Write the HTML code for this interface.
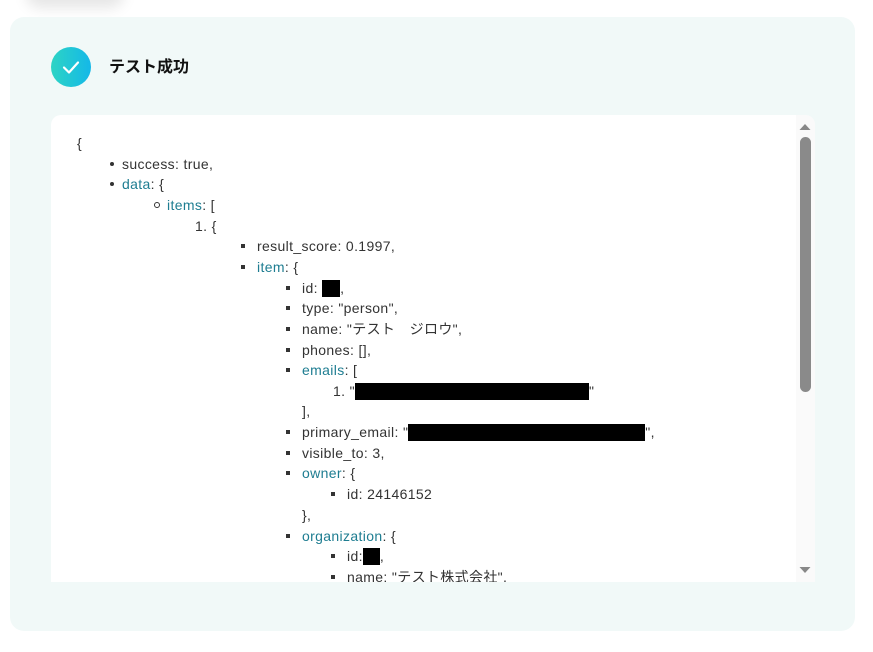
<!DOCTYPE html>
<html><head><meta charset="utf-8"><style>
body{margin:0;width:873px;height:652px;background:#fff;position:relative;overflow:hidden;font-family:"Liberation Sans","Noto Sans CJK JP",sans-serif;}
.shadow{position:absolute;left:30px;top:-20px;width:90px;height:20px;border-radius:20px;box-shadow:0 4px 14px 4px rgba(0,0,0,.10);background:#fff;}
.panel{position:absolute;left:10px;top:17px;width:845px;height:614px;background:#f1f9f8;border-radius:14px;}
.icon{position:absolute;left:51px;top:47px;width:40px;height:40px;border-radius:50%;background:linear-gradient(90deg,#2dd4c4,#14b8e8);}
.title{position:absolute;left:109px;top:57px;font-size:16px;font-weight:bold;color:#111;line-height:22px;}
.box{position:absolute;left:51px;top:115px;width:764px;height:467px;background:#fff;border-radius:10px 10px 0 0;overflow:hidden;}
.sb{position:absolute;right:0;top:0;width:19px;height:467px;background:#fafafa;}
.thumb{position:absolute;left:4px;top:22px;width:11px;height:255px;background:#8a8a8a;border-radius:6px;}
.l{position:absolute;height:20px;line-height:20px;font-size:14px;letter-spacing:0.35px;color:#333;white-space:nowrap;}
.k{color:#1e7d91;}
.d{position:absolute;width:4px;height:4px;background:#333;border-radius:50%;}
.c{position:absolute;width:4px;height:4px;border:1px solid #333;border-radius:50%;}
.s{position:absolute;width:4px;height:4px;background:#333;}
.r{display:inline-block;background:#000;height:17px;vertical-align:-4px;}
</style></head><body>
<div class="shadow"></div>
<div class="panel"></div>
<div class="icon"><svg width="40" height="40"><path d="M13 20.5l5 5 9-10" fill="none" stroke="#fff" stroke-width="2.2" stroke-linecap="round" stroke-linejoin="round"/></svg></div>
<div class="title">テスト成功</div>
<div class="box">
<div class="l" style="left:26px;top:18px">{</div>
<div class="d" style="left:59px;top:47px"></div><div class="l" style="left:71px;top:39px">success: true,</div>
<div class="d" style="left:59px;top:67px"></div><div class="l" style="left:71px;top:59px"><span class="k">data</span>: {</div>
<div class="c" style="left:103px;top:87px"></div><div class="l" style="left:116px;top:80px"><span class="k">items</span>: [</div>
<div class="l" style="left:144px;top:101px">1. {</div>
<div class="s" style="left:190px;top:129px"></div><div class="l" style="left:206px;top:121px">result_score: 0.1997,</div>
<div class="s" style="left:190px;top:150px"></div><div class="l" style="left:206px;top:142px"><span class="k">item</span>: {</div>
<div class="s" style="left:235px;top:171px"></div><div class="l" style="left:251px;top:163px">id: <span class="r" style="width:18px"></span>,</div>
<div class="s" style="left:235px;top:191px"></div><div class="l" style="left:251px;top:183px">type: "person",</div>
<div class="s" style="left:235px;top:212px"></div><div class="l" style="left:251px;top:204px">name: "テスト　ジロウ",</div>
<div class="s" style="left:235px;top:233px"></div><div class="l" style="left:251px;top:225px">phones: [],</div>
<div class="s" style="left:235px;top:253px"></div><div class="l" style="left:251px;top:245px"><span class="k">emails</span>: [</div>
<div class="l" style="left:282px;top:266px">1. "<span class="r" style="width:234px"></span>"</div>
<div class="l" style="left:251px;top:286px">],</div>
<div class="s" style="left:235px;top:315px"></div><div class="l" style="left:251px;top:307px">primary_email: "<span class="r" style="width:237px"></span>",</div>
<div class="s" style="left:235px;top:336px"></div><div class="l" style="left:251px;top:328px">visible_to: 3,</div>
<div class="s" style="left:235px;top:356px"></div><div class="l" style="left:251px;top:348px"><span class="k">owner</span>: {</div>
<div class="s" style="left:280px;top:377px"></div><div class="l" style="left:296px;top:369px">id: 24146152</div>
<div class="l" style="left:251px;top:390px">},</div>
<div class="s" style="left:235px;top:419px"></div><div class="l" style="left:251px;top:411px"><span class="k">organization</span>: {</div>
<div class="s" style="left:280px;top:439px"></div><div class="l" style="left:296px;top:431px">id:<span class="r" style="width:17px"></span>,</div>
<div class="s" style="left:280px;top:460px"></div><div class="l" style="left:296px;top:452px">name: "テスト株式会社",</div>
<div class="sb"><svg width="19" height="467" style="position:absolute;left:0;top:0"><path d="M3.5 15l5.5-6 5.5 6z" fill="#888"/><path d="M3.5 452l5.5 6 5.5-6z" fill="#888"/></svg><div class="thumb"></div></div>
</div>
</body></html>
